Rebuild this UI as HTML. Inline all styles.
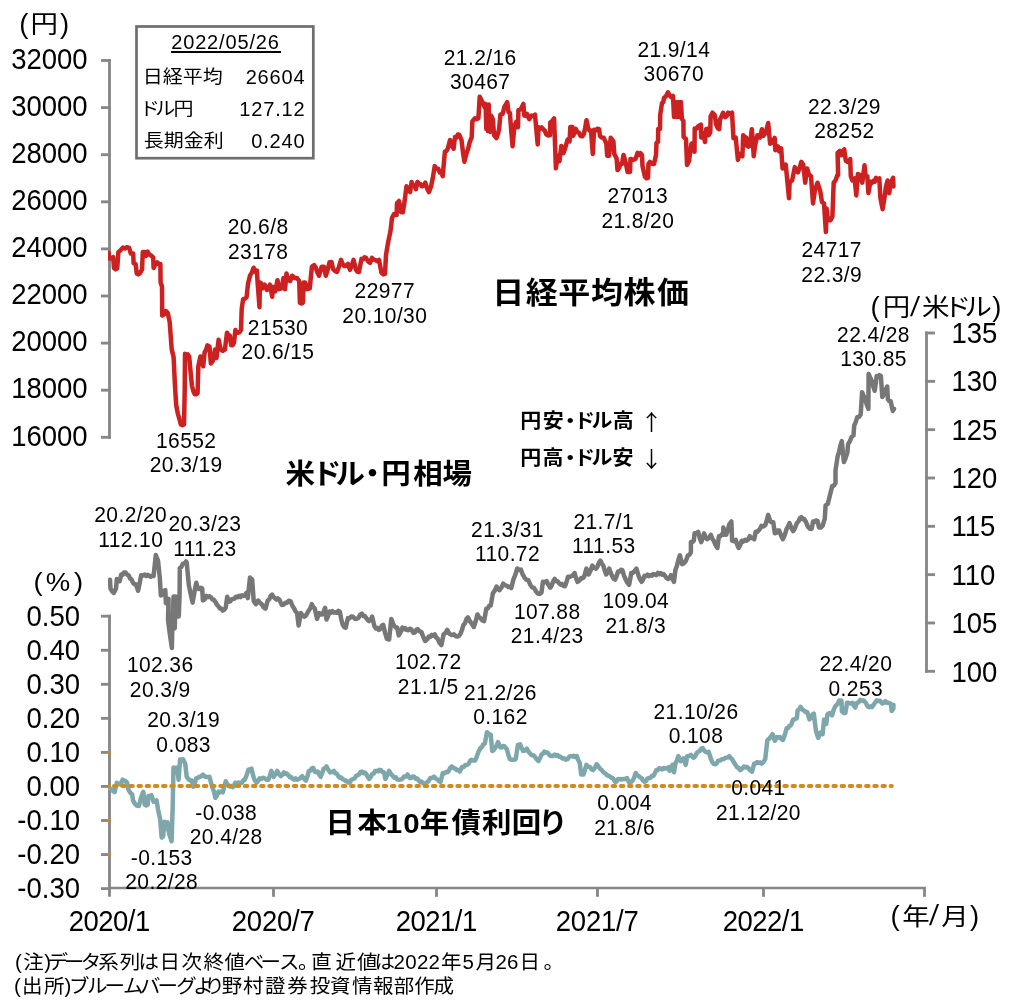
<!DOCTYPE html>
<html lang="ja"><head><meta charset="utf-8"><title>chart</title>
<style>html,body{margin:0;padding:0;background:#fff;}svg{display:block;}</style>
</head><body>
<svg width="1019" height="1001" viewBox="0 0 1019 1001">
<rect width="1019" height="1001" fill="#fff"/>
<line x1="109.50" y1="59.10" x2="109.50" y2="438.70" stroke="#878787" stroke-width="2.85" stroke-linecap="butt"/>
<line x1="101.00" y1="60.50" x2="110.90" y2="60.50" stroke="#878787" stroke-width="2.85" stroke-linecap="butt"/>
<line x1="101.00" y1="107.60" x2="110.90" y2="107.60" stroke="#878787" stroke-width="2.85" stroke-linecap="butt"/>
<line x1="101.00" y1="154.70" x2="110.90" y2="154.70" stroke="#878787" stroke-width="2.85" stroke-linecap="butt"/>
<line x1="101.00" y1="201.80" x2="110.90" y2="201.80" stroke="#878787" stroke-width="2.85" stroke-linecap="butt"/>
<line x1="101.00" y1="248.90" x2="110.90" y2="248.90" stroke="#878787" stroke-width="2.85" stroke-linecap="butt"/>
<line x1="101.00" y1="296.00" x2="110.90" y2="296.00" stroke="#878787" stroke-width="2.85" stroke-linecap="butt"/>
<line x1="101.00" y1="343.10" x2="110.90" y2="343.10" stroke="#878787" stroke-width="2.85" stroke-linecap="butt"/>
<line x1="101.00" y1="390.20" x2="110.90" y2="390.20" stroke="#878787" stroke-width="2.85" stroke-linecap="butt"/>
<line x1="101.00" y1="437.30" x2="110.90" y2="437.30" stroke="#878787" stroke-width="2.85" stroke-linecap="butt"/>
<line x1="109.50" y1="614.80" x2="109.50" y2="896.70" stroke="#878787" stroke-width="2.85" stroke-linecap="butt"/>
<line x1="101.00" y1="616.20" x2="110.90" y2="616.20" stroke="#878787" stroke-width="2.85" stroke-linecap="butt"/>
<line x1="101.00" y1="650.25" x2="110.90" y2="650.25" stroke="#878787" stroke-width="2.85" stroke-linecap="butt"/>
<line x1="101.00" y1="684.30" x2="110.90" y2="684.30" stroke="#878787" stroke-width="2.85" stroke-linecap="butt"/>
<line x1="101.00" y1="718.35" x2="110.90" y2="718.35" stroke="#878787" stroke-width="2.85" stroke-linecap="butt"/>
<line x1="101.00" y1="752.40" x2="110.90" y2="752.40" stroke="#878787" stroke-width="2.85" stroke-linecap="butt"/>
<line x1="101.00" y1="786.45" x2="110.90" y2="786.45" stroke="#878787" stroke-width="2.85" stroke-linecap="butt"/>
<line x1="101.00" y1="820.50" x2="110.90" y2="820.50" stroke="#878787" stroke-width="2.85" stroke-linecap="butt"/>
<line x1="101.00" y1="854.55" x2="110.90" y2="854.55" stroke="#878787" stroke-width="2.85" stroke-linecap="butt"/>
<line x1="101.00" y1="888.60" x2="110.90" y2="888.60" stroke="#878787" stroke-width="2.85" stroke-linecap="butt"/>
<line x1="109.50" y1="888.00" x2="925.90" y2="888.00" stroke="#878787" stroke-width="2.6" stroke-linecap="butt"/>
<line x1="273.50" y1="887.50" x2="273.50" y2="896.80" stroke="#878787" stroke-width="2.85" stroke-linecap="butt"/>
<line x1="436.50" y1="887.50" x2="436.50" y2="896.80" stroke="#878787" stroke-width="2.85" stroke-linecap="butt"/>
<line x1="597.50" y1="887.50" x2="597.50" y2="896.80" stroke="#878787" stroke-width="2.85" stroke-linecap="butt"/>
<line x1="763.50" y1="887.50" x2="763.50" y2="896.80" stroke="#878787" stroke-width="2.85" stroke-linecap="butt"/>
<line x1="924.50" y1="887.50" x2="924.50" y2="896.80" stroke="#878787" stroke-width="2.85" stroke-linecap="butt"/>
<line x1="926.50" y1="331.60" x2="926.50" y2="672.71" stroke="#878787" stroke-width="2.85" stroke-linecap="butt"/>
<line x1="925.10" y1="333.00" x2="935.00" y2="333.00" stroke="#878787" stroke-width="2.85" stroke-linecap="butt"/>
<line x1="925.10" y1="381.33" x2="935.00" y2="381.33" stroke="#878787" stroke-width="2.85" stroke-linecap="butt"/>
<line x1="925.10" y1="429.66" x2="935.00" y2="429.66" stroke="#878787" stroke-width="2.85" stroke-linecap="butt"/>
<line x1="925.10" y1="477.99" x2="935.00" y2="477.99" stroke="#878787" stroke-width="2.85" stroke-linecap="butt"/>
<line x1="925.10" y1="526.32" x2="935.00" y2="526.32" stroke="#878787" stroke-width="2.85" stroke-linecap="butt"/>
<line x1="925.10" y1="574.65" x2="935.00" y2="574.65" stroke="#878787" stroke-width="2.85" stroke-linecap="butt"/>
<line x1="925.10" y1="622.98" x2="935.00" y2="622.98" stroke="#878787" stroke-width="2.85" stroke-linecap="butt"/>
<line x1="925.10" y1="671.31" x2="935.00" y2="671.31" stroke="#878787" stroke-width="2.85" stroke-linecap="butt"/>
<rect x="108.1" y="751.0" width="2.7" height="2.8" fill="#d08c1a"/>
<rect x="108.1" y="785.1" width="2.7" height="2.8" fill="#d08c1a"/>
<rect x="108.1" y="819.1" width="2.7" height="2.8" fill="#d08c1a"/>
<rect x="108.1" y="853.1" width="2.7" height="2.8" fill="#d08c1a"/>
<clipPath id="pc"><rect x="108" y="0" width="900" height="1001"/></clipPath>
<polyline points="110.0,788.6 111.6,789.3 113.1,791.1 114.6,792.0 116.8,782.7 118.2,784.2 119.7,784.2 121.2,782.7 122.7,779.7 124.2,781.2 125.6,781.1 127.1,782.7 128.6,790.0 130.4,792.8 132.2,794.5 133.0,800.4 134.8,803.6 136.6,805.5 138.9,806.0 141.1,797.4 143.3,791.8 144.7,804.8 146.2,805.5 147.7,804.8 148.4,795.9 149.9,796.0 151.4,795.2 153.6,801.8 155.1,801.5 156.5,800.4 158.0,809.2 160.2,819.5 161.7,837.6 163.1,836.2 164.6,821.7 166.1,822.8 167.6,822.4 168.3,829.8 169.9,836.1 171.6,841.2 172.7,806.2 173.5,767.5 175.3,768.2 177.1,767.5 178.6,779.7 180.1,759.4 181.6,759.8 183.0,759.4 185.2,763.6 186.7,776.8 188.9,779.7 190.4,780.7 191.9,780.5 193.3,786.8 194.8,783.2 196.3,778.3 197.8,778.0 199.2,776.8 201.1,776.5 202.9,774.6 204.8,776.5 206.6,776.8 208.1,777.2 209.5,776.8 211.0,782.7 212.4,787.5 213.9,791.5 215.4,797.9 216.9,795.3 218.4,791.5 219.9,792.5 221.3,791.5 222.8,792.3 224.2,787.2 225.7,781.2 227.2,784.0 228.7,785.6 230.2,786.5 231.6,786.1 233.1,787.1 235.3,782.7 237.0,783.5 238.7,782.6 240.4,783.4 241.9,782.7 243.3,780.4 244.8,779.7 246.7,775.0 248.5,769.4 250.0,769.6 251.5,768.7 252.9,774.7 254.4,779.7 256.6,782.7 258.1,780.9 259.6,778.3 261.3,779.0 263.0,777.7 264.7,778.3 266.5,779.7 268.4,779.7 269.9,775.8 271.3,770.9 273.6,776.8 275.4,774.6 277.2,770.9 279.0,774.2 280.9,776.1 282.4,774.7 283.9,772.4 285.4,773.9 286.8,773.6 288.3,775.3 289.8,777.2 291.2,777.0 292.7,779.0 294.2,779.6 295.6,778.3 297.1,779.7 298.6,779.0 300.5,778.1 302.3,776.1 304.1,778.9 305.9,780.5 307.4,776.5 308.9,770.9 310.4,770.7 311.8,768.4 313.3,768.0 314.8,771.6 316.2,772.2 317.7,771.6 319.2,774.6 320.7,776.8 322.1,773.2 323.6,768.7 325.1,768.3 326.5,766.5 328.4,770.0 330.2,772.4 332.0,772.1 333.9,770.9 335.4,773.3 336.8,773.7 338.3,776.1 339.8,777.7 341.2,777.4 342.7,779.4 344.2,779.7 345.7,781.3 347.1,781.0 348.6,782.7 350.1,782.1 351.5,779.7 353.0,779.0 354.5,778.4 356.0,776.1 357.5,775.3 359.0,774.5 360.4,772.2 361.9,771.6 363.4,773.2 364.8,772.5 366.3,773.9 367.8,777.0 369.2,779.0 370.7,776.9 372.2,773.9 373.7,773.5 375.1,771.1 376.6,770.9 378.1,771.4 379.5,769.8 381.0,770.2 382.5,772.0 384.0,772.4 385.4,779.0 387.2,775.4 389.1,770.9 391.0,774.1 392.8,776.1 394.3,777.8 395.8,777.3 397.2,779.4 398.7,779.7 400.9,779.6 402.5,778.8 404.2,776.4 405.9,776.6 407.5,774.5 409.7,778.1 411.2,778.0 412.6,776.5 414.1,776.7 415.6,778.7 417.1,778.4 418.6,780.4 420.1,782.1 421.5,781.6 423.0,783.3 424.9,783.6 426.7,782.6 428.5,781.0 430.3,778.1 432.1,778.0 434.0,776.7 435.9,778.6 437.7,779.6 439.1,781.4 440.6,781.8 442.8,773.0 444.3,773.4 445.8,772.1 447.3,772.3 448.8,770.9 450.2,767.8 451.7,766.4 453.5,768.0 455.4,768.6 456.9,770.1 458.3,769.9 459.8,771.5 462.0,767.1 463.7,767.0 465.4,765.0 467.1,764.9 468.6,763.7 470.0,761.0 471.5,759.7 473.4,760.6 475.2,760.5 476.7,756.9 478.2,752.4 480.4,748.0 481.9,747.2 483.3,744.3 484.8,743.6 487.0,732.3 488.9,734.2 490.7,734.7 492.2,750.9 493.6,750.2 495.1,748.0 496.6,745.8 498.0,742.1 500.3,747.2 501.8,747.5 503.2,746.0 504.7,746.5 506.9,749.4 508.4,754.9 509.8,759.0 511.3,759.8 512.8,759.7 514.2,759.8 515.7,759.0 517.9,745.0 520.1,744.3 521.6,748.0 523.1,750.9 525.0,750.5 526.8,748.7 528.6,751.8 530.4,753.9 531.9,755.3 533.4,755.2 534.9,756.8 536.7,759.4 538.5,761.0 540.0,758.2 541.5,754.6 543.0,753.6 544.4,751.6 545.9,752.6 547.4,752.4 549.2,754.7 551.0,756.1 552.9,755.9 554.7,754.6 556.2,755.8 557.7,755.1 559.1,756.8 560.6,756.8 562.3,758.4 564.1,758.3 565.8,759.7 567.5,759.1 569.2,756.7 570.9,756.1 572.4,756.6 573.8,755.7 575.3,756.9 576.8,756.1 578.2,760.0 579.7,762.7 581.2,774.5 583.4,774.5 584.9,770.2 586.4,764.9 588.2,766.6 590.1,767.1 591.5,769.3 593.0,770.1 594.9,767.6 596.7,764.2 598.9,767.1 600.3,769.0 601.8,770.1 603.6,772.4 605.5,773.7 607.4,775.5 609.2,775.9 611.0,777.5 612.9,778.1 615.1,781.8 616.6,781.5 618.0,779.2 619.5,778.9 621.4,779.5 623.2,778.9 625.0,779.0 626.9,778.1 629.1,782.6 630.9,782.3 632.7,780.4 634.2,777.4 635.7,773.0 637.2,775.1 638.6,775.9 640.1,777.5 641.6,778.1 643.0,780.6 644.5,781.8 646.0,781.1 647.4,778.7 648.9,778.1 650.4,777.9 651.9,776.0 653.4,775.9 654.8,773.4 656.3,770.1 657.8,770.1 659.2,768.3 660.7,768.6 662.2,769.4 663.6,768.1 665.1,768.6 667.0,768.6 668.8,767.1 669.5,770.8 671.0,768.4 672.5,764.9 674.0,772.3 675.4,763.4 676.9,760.5 678.4,756.1 680.6,761.2 682.0,760.4 683.5,758.3 685.7,764.9 687.2,756.2 689.0,756.1 690.9,754.8 692.3,756.8 693.8,757.7 695.3,756.1 696.7,753.0 698.2,751.8 699.7,751.0 701.2,748.6 702.7,748.1 704.2,750.7 705.6,751.8 707.1,752.4 708.6,751.8 710.4,757.4 712.2,762.1 713.7,763.9 715.2,764.3 716.7,763.3 718.1,760.7 720.0,760.6 721.8,759.2 723.6,759.1 725.5,757.7 727.4,757.5 729.2,756.2 730.7,758.2 732.1,759.2 734.0,762.6 735.8,765.1 737.3,767.5 738.7,767.9 740.2,770.2 742.0,768.8 743.9,766.5 745.4,767.4 746.8,766.8 748.3,768.0 750.1,770.4 752.0,771.7 754.2,763.6 755.7,763.4 757.1,762.1 758.6,763.1 760.0,762.4 761.5,763.6 763.4,762.2 765.2,759.2 767.4,740.0 768.9,739.0 770.4,737.1 772.6,734.2 774.8,740.8 777.0,737.1 778.5,737.6 780.0,737.1 781.5,739.1 782.9,740.0 784.8,734.9 786.6,728.3 788.1,728.0 789.5,725.8 791.0,725.3 793.2,719.4 795.0,719.2 796.9,718.0 797.6,710.6 799.1,709.4 800.6,706.9 802.4,709.5 804.2,710.6 805.7,712.1 807.2,712.1 809.4,719.4 810.9,718.0 812.3,714.8 813.8,713.6 816.0,731.2 818.2,737.8 820.4,732.7 822.6,734.2 824.1,719.4 826.3,723.9 827.4,714.5 829.7,713.0 832.1,715.3 833.6,709.8 835.6,705.9 838.0,703.5 839.1,700.4 841.5,700.8 841.9,711.4 843.6,712.9 845.4,713.0 847.0,702.8 848.5,702.8 850.9,703.5 852.5,702.8 853.9,705.7 855.2,707.5 856.4,703.5 858.8,702.0 860.3,699.8 861.9,700.9 863.5,700.4 865.8,702.8 867.8,706.7 869.2,707.3 870.7,706.3 872.1,707.1 874.5,703.5 876.8,700.4 878.4,701.0 880.0,700.8 882.3,703.5 883.8,702.8 885.4,701.2 887.0,702.8 888.6,702.8 890.9,703.9 891.7,711.0 893.3,708.8 893.5,705.0" fill="none" stroke="#7ea7ac" stroke-width="4.5" stroke-linejoin="round" stroke-linecap="round" clip-path="url(#pc)"/>
<line x1="105.8" y1="785.9" x2="891.8" y2="785.9" stroke="#d08c1a" stroke-width="4" stroke-linecap="round" stroke-dasharray="2.5 5.675" clip-path="url(#pc)"/>
<polyline points="110.0,579.7 110.5,588.6 112.2,591.4 113.8,593.0 116.0,588.6 116.8,579.0 118.2,581.0 119.7,581.2 121.2,574.6 122.7,574.7 124.1,572.5 125.6,572.4 127.1,574.6 128.6,575.3 130.1,578.5 131.5,579.4 133.0,582.7 134.4,584.3 135.9,584.2 138.1,590.8 139.6,583.6 141.1,575.3 142.9,575.5 144.7,574.6 146.2,576.0 147.7,574.8 149.2,576.0 150.7,576.9 152.1,575.5 153.6,576.0 155.8,555.0 158.0,560.6 159.8,578.0 160.9,595.5 162.4,594.4 163.8,591.0 165.3,590.0 165.9,603.2 168.6,598.8 168.0,619.7 169.9,634.5 171.9,648.0 172.5,617.5 173.6,596.6 174.7,628.5 175.8,596.6 177.2,616.4 178.5,596.6 178.8,616.4 179.6,594.5 179.8,568.1 181.4,566.9 182.9,563.7 184.4,563.6 186.0,561.5 186.7,562.5 188.9,585.6 190.8,594.6 192.6,602.6 194.8,590.0 196.3,582.7 197.7,588.6 199.2,589.1 200.7,587.8 202.2,588.6 202.9,600.4 204.8,599.1 206.6,595.9 208.1,597.1 209.5,596.3 211.0,597.4 212.5,599.6 213.9,599.8 215.4,601.8 216.9,604.6 218.4,606.2 219.9,608.4 221.3,608.5 222.8,610.7 224.2,609.8 225.7,607.7 227.2,596.7 228.7,601.8 230.2,601.4 231.6,599.3 233.1,598.9 234.6,598.5 236.0,596.7 237.5,597.2 239.0,595.9 240.4,597.1 241.9,595.3 243.4,595.9 244.9,595.3 246.3,593.0 247.8,598.1 250.0,577.5 252.2,579.7 253.7,601.2 255.9,604.2 258.1,600.5 260.0,602.9 261.8,604.2 263.6,607.4 265.5,608.6 267.7,600.5 269.2,599.5 270.6,596.0 272.1,594.6 273.6,597.1 275.0,598.3 276.5,599.6 277.9,598.4 279.4,599.7 281.7,604.9 283.5,604.8 285.3,602.7 287.0,602.9 288.8,600.8 290.5,601.2 292.4,605.7 294.2,608.6 295.6,611.5 297.1,613.0 298.6,625.5 300.8,613.0 302.6,615.6 304.5,616.7 306.3,615.0 308.1,611.5 310.0,608.8 311.8,604.2 313.3,607.2 314.8,608.6 317.0,618.9 319.2,613.0 320.6,614.5 322.1,614.5 323.6,611.7 325.1,607.8 326.5,619.6 328.0,616.2 329.5,611.5 331.0,612.6 332.4,611.2 333.9,612.7 335.4,612.3 336.9,612.8 338.3,610.9 339.8,611.5 341.2,619.0 342.7,624.8 344.2,626.9 345.7,627.7 347.9,618.1 349.6,618.4 351.3,616.4 353.0,616.7 354.9,618.7 356.7,618.9 358.4,617.9 360.2,614.7 361.9,613.7 363.4,615.9 364.8,616.1 366.3,618.1 367.8,620.1 369.2,621.1 370.7,619.8 372.2,616.7 374.4,626.2 375.9,628.4 377.3,627.9 378.8,629.9 380.3,628.9 381.7,625.9 383.2,624.8 385.0,632.6 386.9,638.8 389.1,639.5 391.3,618.9 393.5,624.8 395.4,627.2 397.2,627.7 398.7,635.4 400.5,632.4 402.4,627.7 403.9,629.2 405.3,628.2 406.8,629.9 408.3,630.3 409.7,628.7 411.2,629.2 413.4,632.9 414.9,632.6 416.3,629.6 417.8,629.2 419.6,631.4 421.5,632.1 423.4,637.2 425.2,641.0 427.0,639.5 428.9,636.5 430.3,636.9 431.8,634.9 433.2,635.7 434.7,634.3 436.2,637.5 437.7,638.8 439.5,642.8 441.4,645.0 443.6,634.3 445.5,633.0 447.3,629.9 448.8,633.0 450.2,634.3 452.0,635.1 453.9,634.3 455.8,636.2 457.6,636.5 459.1,635.8 460.5,633.6 462.0,629.7 463.5,624.8 465.0,623.3 466.4,619.1 467.9,617.4 469.7,620.9 471.5,623.3 473.8,627.0 475.6,621.5 477.4,614.5 478.9,617.0 480.4,618.1 482.2,620.3 484.1,621.1 486.3,608.6 487.8,608.3 489.2,605.8 490.7,605.6 492.9,593.1 494.8,590.6 496.6,586.5 498.1,589.2 499.5,590.2 501.4,587.6 503.2,583.6 505.0,585.2 506.9,585.8 508.4,587.1 509.8,586.7 511.3,588.0 513.5,579.1 515.4,574.6 517.2,568.5 519.0,570.0 520.9,569.6 522.7,574.5 524.5,577.7 526.4,579.7 528.2,579.9 530.4,585.0 532.2,587.4 534.1,588.0 536.0,591.4 537.8,593.5 539.6,593.9 541.5,592.4 542.9,581.8 544.8,582.3 546.6,581.1 548.5,584.9 550.3,587.7 551.8,585.3 553.2,581.3 554.7,578.9 556.2,581.2 557.6,581.2 559.1,583.3 560.6,584.6 562.0,583.9 563.5,586.1 565.0,586.2 566.5,582.0 568.0,576.7 569.9,576.9 571.7,575.9 573.2,575.2 574.6,573.0 576.0,578.0 577.5,581.8 579.4,580.6 581.2,578.1 582.7,578.3 584.2,576.7 586.4,568.6 588.6,574.5 590.5,570.8 592.3,565.6 594.1,567.8 595.9,568.6 597.4,566.6 598.9,562.7 600.4,560.5 601.8,563.7 603.3,565.6 604.8,570.8 606.2,574.5 607.7,572.1 609.2,568.6 610.7,572.8 612.1,575.9 613.6,578.7 615.1,579.6 616.5,576.3 618.0,571.5 619.5,571.6 620.9,569.8 622.4,570.1 623.9,575.4 625.4,578.9 627.2,582.4 629.1,584.8 631.3,573.0 632.8,572.8 634.2,571.5 636.4,568.6 638.6,575.9 640.1,579.4 641.6,581.8 643.0,579.7 644.5,575.9 646.0,576.3 647.5,574.7 648.9,576.2 650.4,575.2 651.9,575.7 653.3,574.1 654.8,574.5 656.3,575.1 657.8,572.9 659.2,574.1 660.7,573.0 662.2,574.6 663.6,574.1 665.1,575.9 666.6,578.1 668.1,578.9 669.5,577.8 671.0,575.2 672.5,579.2 674.0,581.8 675.4,570.1 676.9,566.0 678.4,559.7 679.9,555.3 682.1,564.2 683.9,563.3 685.7,561.2 687.9,555.4 689.4,554.9 690.9,552.4 690.9,542.1 692.3,542.3 693.8,540.7 694.6,533.3 696.4,533.2 698.2,531.8 699.7,537.9 701.2,542.1 702.7,538.4 704.1,533.3 705.6,537.2 707.1,539.2 709.0,537.9 710.8,534.8 712.2,538.5 713.7,540.7 715.5,545.0 717.4,548.0 718.9,536.2 720.4,536.2 721.8,534.3 723.3,534.8 723.3,527.4 724.8,531.6 726.2,534.8 727.7,530.6 729.2,524.5 731.4,521.5 732.1,540.7 734.0,541.3 735.8,539.9 737.2,544.7 738.7,548.0 740.2,544.9 741.7,540.7 743.4,541.6 745.1,539.7 746.8,540.7 748.3,539.3 749.8,536.2 751.3,538.0 752.7,537.5 754.2,539.2 755.7,531.8 757.2,531.8 758.6,530.4 760.0,528.8 761.5,525.9 763.4,526.4 765.2,525.2 766.7,520.8 768.2,514.9 770.4,521.5 771.8,522.5 773.3,522.3 774.8,533.3 776.3,532.9 777.7,530.5 779.2,530.4 781.0,535.4 782.9,539.2 784.8,534.8 786.6,528.9 788.0,526.6 789.5,523.0 791.4,528.0 793.2,531.1 795.0,528.0 796.9,523.0 798.4,521.5 799.8,518.5 801.3,517.1 802.8,519.2 804.2,519.0 805.7,521.5 807.9,526.7 809.8,528.7 811.6,528.9 813.1,521.5 814.6,521.9 816.0,520.4 817.5,520.8 819.0,527.4 820.8,527.5 822.6,525.9 824.8,518.6 825.6,505.3 827.8,503.9 830.0,495.0 832.2,486.2 833.9,485.6 835.5,483.1 835.5,470.5 837.6,456.5 839.0,452.3 840.4,445.6 841.8,441.1 843.9,462.1 845.6,458.1 847.4,452.3 848.1,443.9 849.9,441.2 851.6,436.9 853.5,435.5 854.2,425.7 855.7,422.2 857.2,417.3 859.0,416.9 860.7,414.5 862.1,392.2 863.5,395.6 864.9,397.8 866.6,404.3 868.4,409.0 868.6,374.0 871.2,379.6 873.0,385.7 874.7,390.8 876.7,376.1 878.1,376.7 879.5,375.1 880.9,376.1 882.3,397.1 883.7,394.6 885.1,390.8 887.2,386.6 887.9,399.2 889.3,401.1 890.7,401.3 892.8,411.0 894.0,408.8" fill="none" stroke="#777777" stroke-width="4.5" stroke-linejoin="round" stroke-linecap="round" clip-path="url(#pc)"/>
<polyline points="108.6,252.8 109.2,258.4 111.2,258.5 113.2,257.2 114.0,268.0 115.6,269.4 117.2,268.4 118.4,252.0 120.4,250.4 122.8,247.6 124.8,248.5 126.8,247.2 129.2,248.0 130.8,253.6 133.2,253.6 133.6,263.2 135.6,264.0 136.8,273.6 138.2,274.4 139.6,273.6 142.0,269.6 142.8,252.0 144.4,252.0 146.0,256.0 147.6,251.6 149.2,254.4 150.8,255.2 153.2,257.6 153.6,268.0 155.6,264.0 157.2,262.4 158.8,264.1 160.4,264.0 160.6,282.4 162.0,286.4 162.2,315.6 164.1,314.4 166.0,311.1 167.8,313.0 169.7,322.1 171.7,349.4 173.6,357.1 174.9,384.4 176.2,405.2 177.8,413.5 179.5,419.5 180.8,424.5 182.4,425.2 184.0,424.5 184.7,390.9 185.0,353.7 186.4,355.3 187.8,354.4 189.2,356.5 190.6,372.2 192.0,386.0 193.4,391.3 194.8,394.3 196.2,394.3 197.6,393.0 198.3,366.3 200.4,356.5 201.8,362.3 203.2,366.3 204.6,352.3 206.0,349.9 207.4,345.3 209.5,346.7 210.9,363.5 213.0,360.7 215.1,349.5 216.5,358.0 218.6,339.8 220.7,349.5 222.8,351.0 224.9,349.5 227.0,332.8 228.4,335.0 229.8,335.6 231.2,345.3 232.6,345.2 234.0,342.6 235.4,330.0 236.8,332.6 238.2,332.8 239.6,332.1 241.0,330.0 241.7,309.0 243.1,299.2 244.8,298.8 246.6,297.1 248.0,283.8 250.1,275.4 251.8,272.6 253.6,267.7 255.0,271.4 256.4,272.6 256.9,270.5 257.6,282.5 259.5,307.2 259.9,282.5 261.0,283.2 262.5,288.4 264.7,284.7 267.0,290.0 268.5,288.2 270.0,284.7 272.2,296.7 273.0,287.0 275.2,291.4 277.5,280.2 279.0,289.2 281.6,288.4 283.5,278.0 285.0,289.2 286.5,273.5 288.0,280.2 290.2,281.0 292.1,275.7 294.7,278.0 297.0,278.0 299.2,281.0 299.9,302.7 301.4,303.5 302.9,302.7 303.7,282.5 305.2,282.5 307.4,289.2 309.7,288.4 311.9,266.7 314.2,265.2 315.7,267.5 317.4,272.5 319.0,275.7 321.7,266.7 323.9,266.7 325.8,275.7 327.7,269.7 329.5,262.2 331.5,261.9 333.0,268.9 335.0,271.1 337.0,271.9 339.0,266.7 341.0,259.9 342.5,263.8 344.0,265.9 346.0,265.9 348.0,263.9 350.0,269.9 351.8,265.7 353.5,259.9 356.0,269.9 357.5,271.7 359.0,271.9 361.5,258.9 363.0,259.4 364.5,257.3 366.0,257.9 368.0,261.2 370.0,262.9 372.0,257.9 373.5,259.6 375.0,259.9 377.0,261.1 379.0,259.9 381.5,272.9 383.2,274.4 385.0,273.9 386.0,254.9 388.0,242.9 390.5,230.9 392.0,218.0 394.0,214.0 396.6,215.0 397.0,203.0 399.0,201.0 401.0,212.0 402.9,212.4 404.7,200.4 406.5,186.3 408.3,190.0 410.1,192.1 411.6,182.0 413.0,185.7 414.5,185.6 415.9,189.2 417.4,182.0 418.8,184.2 420.3,184.0 421.7,186.3 423.5,185.6 425.3,182.7 427.1,188.5 429.0,192.1 431.1,186.3 432.9,177.5 434.7,166.1 436.5,168.5 438.4,169.0 439.8,172.6 441.3,172.7 442.7,176.2 444.9,151.6 446.4,151.0 447.8,148.7 450.0,140.0 451.8,145.4 453.6,148.7 455.0,137.1 456.5,137.6 457.9,134.5 459.4,135.0 461.5,140.0 462.9,151.8 464.4,161.7 466.6,153.0 468.1,149.0 469.5,142.9 471.7,137.1 472.4,121.2 475.0,118.3 476.6,119.2 478.4,118.3 479.7,96.8 481.5,100.3 482.9,103.0 484.7,107.5 485.6,103.9 486.3,129.0 487.0,105.0 487.8,130.9 488.7,104.5 489.4,131.0 490.1,131.8 491.0,115.6 492.8,119.2 494.1,135.4 496.4,138.1 497.8,134.3 499.1,129.1 500.4,114.7 502.7,113.8 504.5,106.6 507.2,102.1 508.5,112.0 509.9,112.9 511.2,130.4 512.6,146.2 514.4,126.4 516.2,121.9 518.0,127.3 518.4,110.2 520.7,109.3 523.4,103.9 524.3,115.6 525.6,115.9 527.0,113.8 529.2,119.2 531.5,115.6 533.2,116.1 535.0,114.7 536.4,130.3 537.7,144.4 538.6,127.3 540.1,128.9 541.6,127.4 543.1,129.1 544.9,130.9 546.2,134.2 547.6,135.4 548.2,135.5 550.0,135.1 550.3,122.5 551.8,121.6 554.1,118.4 555.9,168.3 557.7,155.8 559.5,161.2 561.3,145.9 563.5,153.1 565.3,147.7 567.6,139.6 569.6,141.4 570.3,127.0 572.5,127.0 573.0,136.0 574.4,133.3 575.7,128.8 577.3,132.1 579.0,132.6 580.6,136.0 582.2,136.3 583.8,134.2 585.1,128.2 586.5,120.2 588.3,128.8 589.6,130.6 591.0,130.6 592.8,154.0 594.1,129.7 595.8,130.5 597.4,128.7 599.1,129.2 600.0,136.0 601.8,137.6 603.6,137.8 606.3,143.2 607.2,155.8 609.0,155.8 610.7,137.8 613.4,141.4 614.3,154.0 616.6,158.5 617.5,170.1 619.0,168.1 620.6,163.8 622.0,163.9 623.5,154.9 626.0,163.9 627.5,171.9 630.0,171.9 630.5,158.9 633.0,159.9 635.5,158.9 637.5,152.9 639.0,154.9 640.5,153.2 642.0,154.9 642.5,165.9 645.0,176.9 646.5,178.3 648.0,177.9 648.5,163.9 650.0,161.9 652.0,163.7 654.0,163.9 656.0,154.9 656.5,142.9 658.0,141.9 658.2,129.0 660.0,129.0 660.2,115.0 662.0,103.0 663.3,102.0 664.0,98.0 666.0,96.1 668.0,92.3 670.0,96.0 671.5,97.3 673.0,96.0 674.0,117.0 675.4,102.0 676.9,117.0 678.4,102.0 679.4,117.0 680.9,102.0 681.9,119.0 683.4,121.0 683.6,137.0 686.0,139.0 687.0,165.0 689.0,161.0 691.4,144.0 692.2,143.4 694.5,151.7 694.7,128.5 696.7,128.5 698.2,126.2 700.9,124.7 701.2,137.5 703.1,133.0 705.0,142.0 706.1,129.2 708.0,128.5 708.7,135.2 710.3,132.2 710.6,116.5 712.5,112.7 714.7,115.0 716.2,124.7 717.7,128.1 719.2,129.2 720.0,119.5 722.2,115.0 723.0,112.7 725.2,117.2 726.7,116.0 728.2,112.7 730.1,113.9 732.0,112.7 733.1,131.5 733.4,138.2 735.7,137.5 737.9,159.9 739.8,153.9 742.4,156.2 743.2,135.2 744.7,137.2 746.2,137.5 746.9,145.7 748.4,146.7 749.9,145.7 751.8,129.2 752.9,142.0 753.7,156.2 755.2,144.9 757.4,135.2 760.0,137.5 761.9,129.2 763.4,135.9 764.9,133.0 765.6,133.4 768.2,123.0 770.1,143.7 772.1,142.4 774.7,137.9 775.3,150.2 777.9,146.3 779.2,151.5 781.2,148.3 782.5,168.4 784.1,167.7 785.7,164.5 787.0,177.5 789.0,198.2 789.6,182.7 792.2,180.1 794.8,167.1 796.4,170.7 798.0,172.3 799.6,168.0 801.3,161.9 803.2,164.5 805.2,182.7 807.1,168.4 809.1,174.9 811.0,176.2 813.0,203.4 814.9,190.4 817.5,182.7 820.1,190.4 822.0,202.1 824.0,203.4 825.9,232.0 826.6,208.6 827.9,220.3 830.5,220.3 832.4,216.4 833.7,182.7 835.7,180.1 837.4,175.0 838.1,175.0 837.6,153.0 839.8,150.9 841.4,155.3 842.8,153.1 844.2,149.2 845.8,160.8 847.5,161.9 848.9,161.5 850.2,159.1 850.8,176.2 852.4,180.5 854.6,178.4 856.3,195.4 857.9,174.0 860.1,175.0 862.3,182.7 864.5,165.2 865.6,176.2 867.3,176.2 868.4,193.2 870.5,181.6 872.0,182.9 873.4,180.9 874.9,181.6 876.0,177.8 877.6,179.3 879.3,178.4 880.4,198.1 882.6,209.1 884.3,199.2 885.9,187.1 887.6,180.5 889.2,193.2 890.9,182.7 893.1,177.8 893.5,186.5" fill="none" stroke="#cd2020" stroke-width="4.5" stroke-linejoin="round" stroke-linecap="round" clip-path="url(#pc)"/>
<rect x="136.5" y="26.5" width="176.8" height="131.7" fill="#fff" stroke="#6e6e6e" stroke-width="2.7"/>
<text transform="translate(225.5,48.6)" x="0" y="0" text-anchor="middle" style="font-family:'Liberation Sans','Noto Sans CJK JP',sans-serif;font-size:20px;letter-spacing:0.85px;">2022/05/26</text>
<line x1="171.10" y1="52.00" x2="281.00" y2="52.00" stroke="#000" stroke-width="2" stroke-linecap="butt"/>
<text transform="translate(142.8,83.0) scale(1,0.92)" x="0" y="0" text-anchor="start" style="font-family:'Liberation Sans','Noto Sans CJK JP',sans-serif;font-size:20px;">日経平均</text>
<text transform="translate(142.1,115.0) scale(1,0.92)" x="0" y="0" text-anchor="start" style="font-family:'Liberation Sans','Noto Sans CJK JP',sans-serif;font-size:20px;font-feature-settings:'palt';">ド</text>
<text transform="translate(156.3,115.0) scale(1,0.92)" x="0" y="0" text-anchor="start" style="font-family:'Liberation Sans','Noto Sans CJK JP',sans-serif;font-size:20px;font-feature-settings:'palt';">ル</text>
<text transform="translate(173.5,115.0) scale(1,0.92)" x="0" y="0" text-anchor="start" style="font-family:'Liberation Sans','Noto Sans CJK JP',sans-serif;font-size:20px;font-feature-settings:'palt';">円</text>
<text transform="translate(143.8,146.9) scale(1,0.92)" x="0" y="0" text-anchor="start" style="font-family:'Liberation Sans','Noto Sans CJK JP',sans-serif;font-size:20px;">長期金利</text>
<text transform="translate(305.5,84.0)" x="0" y="0" text-anchor="end" style="font-family:'Liberation Sans','Noto Sans CJK JP',sans-serif;font-size:20px;letter-spacing:0.85px;">26604</text>
<text transform="translate(305.5,116.0)" x="0" y="0" text-anchor="end" style="font-family:'Liberation Sans','Noto Sans CJK JP',sans-serif;font-size:20px;letter-spacing:0.85px;">127.12</text>
<text transform="translate(305.5,147.7)" x="0" y="0" text-anchor="end" style="font-family:'Liberation Sans','Noto Sans CJK JP',sans-serif;font-size:20px;letter-spacing:0.85px;">0.240</text>
<text transform="translate(87.6,68.7) scale(1,1.06)" x="0" y="0" text-anchor="end" style="font-family:'Liberation Sans','Noto Sans CJK JP',sans-serif;font-size:27.5px;">32000</text>
<text transform="translate(87.6,115.8) scale(1,1.06)" x="0" y="0" text-anchor="end" style="font-family:'Liberation Sans','Noto Sans CJK JP',sans-serif;font-size:27.5px;">30000</text>
<text transform="translate(87.6,162.9) scale(1,1.06)" x="0" y="0" text-anchor="end" style="font-family:'Liberation Sans','Noto Sans CJK JP',sans-serif;font-size:27.5px;">28000</text>
<text transform="translate(87.6,210.0) scale(1,1.06)" x="0" y="0" text-anchor="end" style="font-family:'Liberation Sans','Noto Sans CJK JP',sans-serif;font-size:27.5px;">26000</text>
<text transform="translate(87.6,257.1) scale(1,1.06)" x="0" y="0" text-anchor="end" style="font-family:'Liberation Sans','Noto Sans CJK JP',sans-serif;font-size:27.5px;">24000</text>
<text transform="translate(87.6,304.2) scale(1,1.06)" x="0" y="0" text-anchor="end" style="font-family:'Liberation Sans','Noto Sans CJK JP',sans-serif;font-size:27.5px;">22000</text>
<text transform="translate(87.6,351.3) scale(1,1.06)" x="0" y="0" text-anchor="end" style="font-family:'Liberation Sans','Noto Sans CJK JP',sans-serif;font-size:27.5px;">20000</text>
<text transform="translate(87.6,398.4) scale(1,1.06)" x="0" y="0" text-anchor="end" style="font-family:'Liberation Sans','Noto Sans CJK JP',sans-serif;font-size:27.5px;">18000</text>
<text transform="translate(87.6,445.5) scale(1,1.06)" x="0" y="0" text-anchor="end" style="font-family:'Liberation Sans','Noto Sans CJK JP',sans-serif;font-size:27.5px;">16000</text>
<text transform="translate(80.0,625.5) scale(1,1.06)" x="0" y="0" text-anchor="end" style="font-family:'Liberation Sans','Noto Sans CJK JP',sans-serif;font-size:27.5px;">0.50</text>
<text transform="translate(80.0,659.5) scale(1,1.06)" x="0" y="0" text-anchor="end" style="font-family:'Liberation Sans','Noto Sans CJK JP',sans-serif;font-size:27.5px;">0.40</text>
<text transform="translate(80.0,693.6) scale(1,1.06)" x="0" y="0" text-anchor="end" style="font-family:'Liberation Sans','Noto Sans CJK JP',sans-serif;font-size:27.5px;">0.30</text>
<text transform="translate(80.0,727.6) scale(1,1.06)" x="0" y="0" text-anchor="end" style="font-family:'Liberation Sans','Noto Sans CJK JP',sans-serif;font-size:27.5px;">0.20</text>
<text transform="translate(80.0,761.7) scale(1,1.06)" x="0" y="0" text-anchor="end" style="font-family:'Liberation Sans','Noto Sans CJK JP',sans-serif;font-size:27.5px;">0.10</text>
<text transform="translate(80.0,795.8) scale(1,1.06)" x="0" y="0" text-anchor="end" style="font-family:'Liberation Sans','Noto Sans CJK JP',sans-serif;font-size:27.5px;">0.00</text>
<text transform="translate(80.0,829.8) scale(1,1.06)" x="0" y="0" text-anchor="end" style="font-family:'Liberation Sans','Noto Sans CJK JP',sans-serif;font-size:27.5px;">-0.10</text>
<text transform="translate(80.0,863.8) scale(1,1.06)" x="0" y="0" text-anchor="end" style="font-family:'Liberation Sans','Noto Sans CJK JP',sans-serif;font-size:27.5px;">-0.20</text>
<text transform="translate(80.0,897.9) scale(1,1.06)" x="0" y="0" text-anchor="end" style="font-family:'Liberation Sans','Noto Sans CJK JP',sans-serif;font-size:27.5px;">-0.30</text>
<text transform="translate(951.5,342.8) scale(1,1.06)" x="0" y="0" text-anchor="start" style="font-family:'Liberation Sans','Noto Sans CJK JP',sans-serif;font-size:27.5px;">135</text>
<text transform="translate(951.5,391.2) scale(1,1.06)" x="0" y="0" text-anchor="start" style="font-family:'Liberation Sans','Noto Sans CJK JP',sans-serif;font-size:27.5px;">130</text>
<text transform="translate(951.5,439.6) scale(1,1.06)" x="0" y="0" text-anchor="start" style="font-family:'Liberation Sans','Noto Sans CJK JP',sans-serif;font-size:27.5px;">125</text>
<text transform="translate(951.5,488.0) scale(1,1.06)" x="0" y="0" text-anchor="start" style="font-family:'Liberation Sans','Noto Sans CJK JP',sans-serif;font-size:27.5px;">120</text>
<text transform="translate(951.5,536.4) scale(1,1.06)" x="0" y="0" text-anchor="start" style="font-family:'Liberation Sans','Noto Sans CJK JP',sans-serif;font-size:27.5px;">115</text>
<text transform="translate(951.5,584.8) scale(1,1.06)" x="0" y="0" text-anchor="start" style="font-family:'Liberation Sans','Noto Sans CJK JP',sans-serif;font-size:27.5px;">110</text>
<text transform="translate(951.5,633.2) scale(1,1.06)" x="0" y="0" text-anchor="start" style="font-family:'Liberation Sans','Noto Sans CJK JP',sans-serif;font-size:27.5px;">105</text>
<text transform="translate(951.5,681.6) scale(1,1.06)" x="0" y="0" text-anchor="start" style="font-family:'Liberation Sans','Noto Sans CJK JP',sans-serif;font-size:27.5px;">100</text>
<text transform="translate(109.2,930.9) scale(1,1.065)" x="0" y="0" text-anchor="middle" style="font-family:'Liberation Sans','Noto Sans CJK JP',sans-serif;font-size:27.5px;letter-spacing:-0.5px;">2020/1</text>
<text transform="translate(273.2,930.9) scale(1,1.065)" x="0" y="0" text-anchor="middle" style="font-family:'Liberation Sans','Noto Sans CJK JP',sans-serif;font-size:27.5px;letter-spacing:-0.2px;">2020/7</text>
<text transform="translate(436.2,930.9) scale(1,1.065)" x="0" y="0" text-anchor="middle" style="font-family:'Liberation Sans','Noto Sans CJK JP',sans-serif;font-size:27.5px;letter-spacing:-0.5px;">2021/1</text>
<text transform="translate(597.2,930.9) scale(1,1.065)" x="0" y="0" text-anchor="middle" style="font-family:'Liberation Sans','Noto Sans CJK JP',sans-serif;font-size:27.5px;letter-spacing:-0.2px;">2021/7</text>
<text transform="translate(763.2,930.9) scale(1,1.065)" x="0" y="0" text-anchor="middle" style="font-family:'Liberation Sans','Noto Sans CJK JP',sans-serif;font-size:27.5px;letter-spacing:-0.5px;">2022/1</text>
<text transform="translate(19.2,33.3)" x="0" y="0" text-anchor="start" style="font-family:'Liberation Sans','Noto Sans CJK JP',sans-serif;font-size:27.5px;">(</text>
<text transform="translate(30.5,33.3) scale(1,0.89)" x="0" y="0" text-anchor="start" style="font-family:'Liberation Sans','Noto Sans CJK JP',sans-serif;font-size:27.5px;">円</text>
<text transform="translate(60.0,33.3)" x="0" y="0" text-anchor="start" style="font-family:'Liberation Sans','Noto Sans CJK JP',sans-serif;font-size:27.5px;">)</text>
<text transform="translate(33.5,590.5) scale(1,0.97)" x="0" y="0" text-anchor="start" style="font-family:'Liberation Sans','Noto Sans CJK JP',sans-serif;font-size:27.5px;">(</text>
<text transform="translate(45.8,590.5) scale(1,0.97)" x="0" y="0" text-anchor="start" style="font-family:'Liberation Sans','Noto Sans CJK JP',sans-serif;font-size:27.5px;">%</text>
<text transform="translate(73.9,590.5) scale(1,0.97)" x="0" y="0" text-anchor="start" style="font-family:'Liberation Sans','Noto Sans CJK JP',sans-serif;font-size:27.5px;">)</text>
<text transform="translate(870.4,316.4) scale(1,0.98)" x="0" y="0" text-anchor="start" style="font-family:'Liberation Sans','Noto Sans CJK JP',sans-serif;font-size:27.5px;">(</text>
<text transform="translate(882.8,316.4) scale(1,0.9)" x="0" y="0" text-anchor="start" style="font-family:'Liberation Sans','Noto Sans CJK JP',sans-serif;font-size:27.5px;">円</text>
<text transform="translate(909.9,316.4) skewX(-7)" x="0" y="0" text-anchor="start" style="font-family:'Liberation Sans','Noto Sans CJK JP',sans-serif;font-size:27.5px;">/</text>
<text transform="translate(921.9,316.4) scale(1,0.9)" x="0" y="0" text-anchor="start" style="font-family:'Liberation Sans','Noto Sans CJK JP',sans-serif;font-size:27.5px;">米</text>
<text transform="translate(943.8,316.4) scale(1,0.9)" x="0" y="0" text-anchor="start" style="font-family:'Liberation Sans','Noto Sans CJK JP',sans-serif;font-size:27.5px;">ド</text>
<text transform="translate(964.4,316.4) scale(1,0.9)" x="0" y="0" text-anchor="start" style="font-family:'Liberation Sans','Noto Sans CJK JP',sans-serif;font-size:27.5px;">ル</text>
<text transform="translate(992.2,316.4) scale(1,0.98)" x="0" y="0" text-anchor="start" style="font-family:'Liberation Sans','Noto Sans CJK JP',sans-serif;font-size:27.5px;">)</text>
<text transform="translate(890.4,925.0)" x="0" y="0" text-anchor="start" style="font-family:'Liberation Sans','Noto Sans CJK JP',sans-serif;font-size:27.5px;">(</text>
<text transform="translate(902.3,925.0) scale(1,0.86)" x="0" y="0" text-anchor="start" style="font-family:'Liberation Sans','Noto Sans CJK JP',sans-serif;font-size:27.5px;">年</text>
<text transform="translate(928.9,925.0) scale(1,1.05) skewX(-7)" x="0" y="0" text-anchor="start" style="font-family:'Liberation Sans','Noto Sans CJK JP',sans-serif;font-size:27.5px;">/</text>
<text transform="translate(941.2,925.0) scale(1,0.86)" x="0" y="0" text-anchor="start" style="font-family:'Liberation Sans','Noto Sans CJK JP',sans-serif;font-size:27.5px;">月</text>
<text transform="translate(969.9,925.0)" x="0" y="0" text-anchor="start" style="font-family:'Liberation Sans','Noto Sans CJK JP',sans-serif;font-size:27.5px;">)</text>
<text transform="translate(480.2,65.0) scale(1,1.055)" x="0" y="0" text-anchor="middle" style="font-family:'Liberation Sans','Noto Sans CJK JP',sans-serif;font-size:21px;letter-spacing:0.4px;">21.2/16</text>
<text transform="translate(480.2,89.0) scale(1,1.055)" x="0" y="0" text-anchor="middle" style="font-family:'Liberation Sans','Noto Sans CJK JP',sans-serif;font-size:21px;letter-spacing:0.4px;">30467</text>
<text transform="translate(673.8,57.3) scale(1,1.055)" x="0" y="0" text-anchor="middle" style="font-family:'Liberation Sans','Noto Sans CJK JP',sans-serif;font-size:21px;letter-spacing:0.4px;">21.9/14</text>
<text transform="translate(673.8,80.8) scale(1,1.055)" x="0" y="0" text-anchor="middle" style="font-family:'Liberation Sans','Noto Sans CJK JP',sans-serif;font-size:21px;letter-spacing:0.4px;">30670</text>
<text transform="translate(844.4,114.1) scale(1,1.055)" x="0" y="0" text-anchor="middle" style="font-family:'Liberation Sans','Noto Sans CJK JP',sans-serif;font-size:21px;letter-spacing:0.4px;">22.3/29</text>
<text transform="translate(844.4,138.1) scale(1,1.055)" x="0" y="0" text-anchor="middle" style="font-family:'Liberation Sans','Noto Sans CJK JP',sans-serif;font-size:21px;letter-spacing:0.4px;">28252</text>
<text transform="translate(637.8,203.2) scale(1,1.055)" x="0" y="0" text-anchor="middle" style="font-family:'Liberation Sans','Noto Sans CJK JP',sans-serif;font-size:21px;letter-spacing:0.4px;">27013</text>
<text transform="translate(637.8,227.9) scale(1,1.055)" x="0" y="0" text-anchor="middle" style="font-family:'Liberation Sans','Noto Sans CJK JP',sans-serif;font-size:21px;letter-spacing:0.4px;">21.8/20</text>
<text transform="translate(831.7,257.3) scale(1,1.055)" x="0" y="0" text-anchor="middle" style="font-family:'Liberation Sans','Noto Sans CJK JP',sans-serif;font-size:21px;letter-spacing:0.4px;">24717</text>
<text transform="translate(831.7,281.8) scale(1,1.055)" x="0" y="0" text-anchor="middle" style="font-family:'Liberation Sans','Noto Sans CJK JP',sans-serif;font-size:21px;letter-spacing:0.4px;">22.3/9</text>
<text transform="translate(258.1,233.8) scale(1,1.055)" x="0" y="0" text-anchor="middle" style="font-family:'Liberation Sans','Noto Sans CJK JP',sans-serif;font-size:21px;letter-spacing:0.4px;">20.6/8</text>
<text transform="translate(258.1,258.6) scale(1,1.055)" x="0" y="0" text-anchor="middle" style="font-family:'Liberation Sans','Noto Sans CJK JP',sans-serif;font-size:21px;letter-spacing:0.4px;">23178</text>
<text transform="translate(384.8,298.3) scale(1,1.055)" x="0" y="0" text-anchor="middle" style="font-family:'Liberation Sans','Noto Sans CJK JP',sans-serif;font-size:21px;letter-spacing:0.4px;">22977</text>
<text transform="translate(384.8,323.4) scale(1,1.055)" x="0" y="0" text-anchor="middle" style="font-family:'Liberation Sans','Noto Sans CJK JP',sans-serif;font-size:21px;letter-spacing:0.4px;">20.10/30</text>
<text transform="translate(278.0,334.6) scale(1,1.055)" x="0" y="0" text-anchor="middle" style="font-family:'Liberation Sans','Noto Sans CJK JP',sans-serif;font-size:21px;letter-spacing:0.4px;">21530</text>
<text transform="translate(278.0,359.2) scale(1,1.055)" x="0" y="0" text-anchor="middle" style="font-family:'Liberation Sans','Noto Sans CJK JP',sans-serif;font-size:21px;letter-spacing:0.4px;">20.6/15</text>
<text transform="translate(186.2,448.2) scale(1,1.055)" x="0" y="0" text-anchor="middle" style="font-family:'Liberation Sans','Noto Sans CJK JP',sans-serif;font-size:21px;letter-spacing:0.4px;">16552</text>
<text transform="translate(186.2,472.0) scale(1,1.055)" x="0" y="0" text-anchor="middle" style="font-family:'Liberation Sans','Noto Sans CJK JP',sans-serif;font-size:21px;letter-spacing:0.4px;">20.3/19</text>
<text transform="translate(873.5,341.8) scale(1,1.055)" x="0" y="0" text-anchor="middle" style="font-family:'Liberation Sans','Noto Sans CJK JP',sans-serif;font-size:21px;letter-spacing:0.4px;">22.4/28</text>
<text transform="translate(873.5,366.2) scale(1,1.055)" x="0" y="0" text-anchor="middle" style="font-family:'Liberation Sans','Noto Sans CJK JP',sans-serif;font-size:21px;letter-spacing:0.4px;">130.85</text>
<text transform="translate(130.7,522.1) scale(1,1.055)" x="0" y="0" text-anchor="middle" style="font-family:'Liberation Sans','Noto Sans CJK JP',sans-serif;font-size:21px;letter-spacing:0.4px;">20.2/20</text>
<text transform="translate(130.7,547.0) scale(1,1.055)" x="0" y="0" text-anchor="middle" style="font-family:'Liberation Sans','Noto Sans CJK JP',sans-serif;font-size:21px;letter-spacing:0.4px;">112.10</text>
<text transform="translate(204.9,530.9) scale(1,1.055)" x="0" y="0" text-anchor="middle" style="font-family:'Liberation Sans','Noto Sans CJK JP',sans-serif;font-size:21px;letter-spacing:0.4px;">20.3/23</text>
<text transform="translate(204.9,555.6) scale(1,1.055)" x="0" y="0" text-anchor="middle" style="font-family:'Liberation Sans','Noto Sans CJK JP',sans-serif;font-size:21px;letter-spacing:0.4px;">111.23</text>
<text transform="translate(507.5,537.0) scale(1,1.055)" x="0" y="0" text-anchor="middle" style="font-family:'Liberation Sans','Noto Sans CJK JP',sans-serif;font-size:21px;letter-spacing:0.4px;">21.3/31</text>
<text transform="translate(507.5,560.5) scale(1,1.055)" x="0" y="0" text-anchor="middle" style="font-family:'Liberation Sans','Noto Sans CJK JP',sans-serif;font-size:21px;letter-spacing:0.4px;">110.72</text>
<text transform="translate(603.8,529.2) scale(1,1.055)" x="0" y="0" text-anchor="middle" style="font-family:'Liberation Sans','Noto Sans CJK JP',sans-serif;font-size:21px;letter-spacing:0.4px;">21.7/1</text>
<text transform="translate(603.8,553.3) scale(1,1.055)" x="0" y="0" text-anchor="middle" style="font-family:'Liberation Sans','Noto Sans CJK JP',sans-serif;font-size:21px;letter-spacing:0.4px;">111.53</text>
<text transform="translate(547.2,618.6) scale(1,1.055)" x="0" y="0" text-anchor="middle" style="font-family:'Liberation Sans','Noto Sans CJK JP',sans-serif;font-size:21px;letter-spacing:0.4px;">107.88</text>
<text transform="translate(547.2,642.5) scale(1,1.055)" x="0" y="0" text-anchor="middle" style="font-family:'Liberation Sans','Noto Sans CJK JP',sans-serif;font-size:21px;letter-spacing:0.4px;">21.4/23</text>
<text transform="translate(635.8,608.4) scale(1,1.055)" x="0" y="0" text-anchor="middle" style="font-family:'Liberation Sans','Noto Sans CJK JP',sans-serif;font-size:21px;letter-spacing:0.4px;">109.04</text>
<text transform="translate(635.8,633.3) scale(1,1.055)" x="0" y="0" text-anchor="middle" style="font-family:'Liberation Sans','Noto Sans CJK JP',sans-serif;font-size:21px;letter-spacing:0.4px;">21.8/3</text>
<text transform="translate(160.2,671.8) scale(1,1.055)" x="0" y="0" text-anchor="middle" style="font-family:'Liberation Sans','Noto Sans CJK JP',sans-serif;font-size:21px;letter-spacing:0.4px;">102.36</text>
<text transform="translate(160.2,697.4) scale(1,1.055)" x="0" y="0" text-anchor="middle" style="font-family:'Liberation Sans','Noto Sans CJK JP',sans-serif;font-size:21px;letter-spacing:0.4px;">20.3/9</text>
<text transform="translate(428.2,669.0) scale(1,1.055)" x="0" y="0" text-anchor="middle" style="font-family:'Liberation Sans','Noto Sans CJK JP',sans-serif;font-size:21px;letter-spacing:0.4px;">102.72</text>
<text transform="translate(428.2,694.0) scale(1,1.055)" x="0" y="0" text-anchor="middle" style="font-family:'Liberation Sans','Noto Sans CJK JP',sans-serif;font-size:21px;letter-spacing:0.4px;">21.1/5</text>
<text transform="translate(500.5,699.9) scale(1,1.055)" x="0" y="0" text-anchor="middle" style="font-family:'Liberation Sans','Noto Sans CJK JP',sans-serif;font-size:21px;letter-spacing:0.4px;">21.2/26</text>
<text transform="translate(500.5,724.1) scale(1,1.055)" x="0" y="0" text-anchor="middle" style="font-family:'Liberation Sans','Noto Sans CJK JP',sans-serif;font-size:21px;letter-spacing:0.4px;">0.162</text>
<text transform="translate(855.8,670.7) scale(1,1.055)" x="0" y="0" text-anchor="middle" style="font-family:'Liberation Sans','Noto Sans CJK JP',sans-serif;font-size:21px;letter-spacing:0.4px;">22.4/20</text>
<text transform="translate(855.8,696.1) scale(1,1.055)" x="0" y="0" text-anchor="middle" style="font-family:'Liberation Sans','Noto Sans CJK JP',sans-serif;font-size:21px;letter-spacing:0.4px;">0.253</text>
<text transform="translate(696.0,718.6) scale(1,1.055)" x="0" y="0" text-anchor="middle" style="font-family:'Liberation Sans','Noto Sans CJK JP',sans-serif;font-size:21px;letter-spacing:0.4px;">21.10/26</text>
<text transform="translate(696.0,743.2) scale(1,1.055)" x="0" y="0" text-anchor="middle" style="font-family:'Liberation Sans','Noto Sans CJK JP',sans-serif;font-size:21px;letter-spacing:0.4px;">0.108</text>
<text transform="translate(183.6,727.2) scale(1,1.055)" x="0" y="0" text-anchor="middle" style="font-family:'Liberation Sans','Noto Sans CJK JP',sans-serif;font-size:21px;letter-spacing:0.4px;">20.3/19</text>
<text transform="translate(183.6,751.7) scale(1,1.055)" x="0" y="0" text-anchor="middle" style="font-family:'Liberation Sans','Noto Sans CJK JP',sans-serif;font-size:21px;letter-spacing:0.4px;">0.083</text>
<text transform="translate(758.4,795.0) scale(1,1.055)" x="0" y="0" text-anchor="middle" style="font-family:'Liberation Sans','Noto Sans CJK JP',sans-serif;font-size:21px;letter-spacing:0.4px;">0.041</text>
<text transform="translate(758.4,819.9) scale(1,1.055)" x="0" y="0" text-anchor="middle" style="font-family:'Liberation Sans','Noto Sans CJK JP',sans-serif;font-size:21px;letter-spacing:0.4px;">21.12/20</text>
<text transform="translate(226.2,820.1) scale(1,1.055)" x="0" y="0" text-anchor="middle" style="font-family:'Liberation Sans','Noto Sans CJK JP',sans-serif;font-size:21px;letter-spacing:0.4px;">-0.038</text>
<text transform="translate(226.2,844.4) scale(1,1.055)" x="0" y="0" text-anchor="middle" style="font-family:'Liberation Sans','Noto Sans CJK JP',sans-serif;font-size:21px;letter-spacing:0.4px;">20.4/28</text>
<text transform="translate(624.6,809.9) scale(1,1.055)" x="0" y="0" text-anchor="middle" style="font-family:'Liberation Sans','Noto Sans CJK JP',sans-serif;font-size:21px;letter-spacing:0.4px;">0.004</text>
<text transform="translate(624.6,834.8) scale(1,1.055)" x="0" y="0" text-anchor="middle" style="font-family:'Liberation Sans','Noto Sans CJK JP',sans-serif;font-size:21px;letter-spacing:0.4px;">21.8/6</text>
<text transform="translate(161.7,865.0) scale(1,1.055)" x="0" y="0" text-anchor="middle" style="font-family:'Liberation Sans','Noto Sans CJK JP',sans-serif;font-size:21px;letter-spacing:0.4px;">-0.153</text>
<text transform="translate(161.7,889.0) scale(1,1.055)" x="0" y="0" text-anchor="middle" style="font-family:'Liberation Sans','Noto Sans CJK JP',sans-serif;font-size:21px;letter-spacing:0.4px;">20.2/28</text>
<text transform="translate(492.3,303.0) scale(1,0.919)" x="0.0 33.4 65.9 98.7 131.2 164.7" y="0" text-anchor="start" style="font-family:'Liberation Sans','Noto Sans CJK JP',sans-serif;font-size:32px;font-weight:bold;">日経平均株価</text>
<text transform="translate(285.6,483.9) scale(1,0.973)" x="0.0 26.4 50.0 72.1 95.7 127.6 157.0" y="0" text-anchor="start" style="font-family:'Liberation Sans','Noto Sans CJK JP',sans-serif;font-size:29.5px;font-weight:bold;">米ドル・円相場</text>
<text transform="translate(325.6,832.9) scale(1,0.962)" x="0.0 31.6 60.2 77.6 94.2 126.0 156.5 186.1 212.7" y="0" text-anchor="start" style="font-family:'Liberation Sans','Noto Sans CJK JP',sans-serif;font-size:29.5px;font-weight:bold;">日本10年債利回り</text>
<text transform="translate(520.3,427.8) scale(1,0.95)" x="0.0 22.5 39.4 53.8 71.3 92.4" y="0" text-anchor="start" style="font-family:'Liberation Sans','Noto Sans CJK JP',sans-serif;font-size:21px;font-weight:bold;">円安・ドル高</text>
<text transform="translate(520.3,464.9) scale(1,0.95)" x="0.0 22.1 39.4 53.8 71.3 92.1" y="0" text-anchor="start" style="font-family:'Liberation Sans','Noto Sans CJK JP',sans-serif;font-size:21px;font-weight:bold;">円高・ドル安</text>
<text transform="translate(640.5,429.6)" x="0" y="0" text-anchor="start" style="font-family:'Noto Sans CJK JP',sans-serif;font-size:22px;">↑</text>
<text transform="translate(640.5,466.8)" x="0" y="0" text-anchor="start" style="font-family:'Noto Sans CJK JP',sans-serif;font-size:22px;">↓</text>
<text transform="translate(14.9,968.9) scale(1,0.95)" x="0.0 8.3 29.4 32.6 48.9 65.8 83.4 104.9 123.5 144.5 166.7 188.7 209.7 228.8 245.5 264.2 283.2 296.3 320.5 342.1 359.7 378.5 390.4 402.2 413.6 426.1 447.7 460.5 480.5 492.0 504.5 528.5" y="0" text-anchor="start" style="font-family:'Liberation Sans','Noto Sans CJK JP',sans-serif;font-size:20.5px;">(注)データ系列は日次終値ベース。直近値は2022年5月26日。</text>
<text transform="translate(13.9,993.4) scale(1,0.95)" x="0.0 8.1 30.1 50.6 55.1 73.1 90.6 109.1 126.1 143.6 162.3 179.1 190.4 207.9 229.2 251.2 273.3 295.8 316.2 338.2 359.0 379.9 400.3 419.5" y="0" text-anchor="start" style="font-family:'Liberation Sans','Noto Sans CJK JP',sans-serif;font-size:20.5px;">(出所)ブルームバーグより野村證券投資情報部作成</text>
</svg>
</body></html>
